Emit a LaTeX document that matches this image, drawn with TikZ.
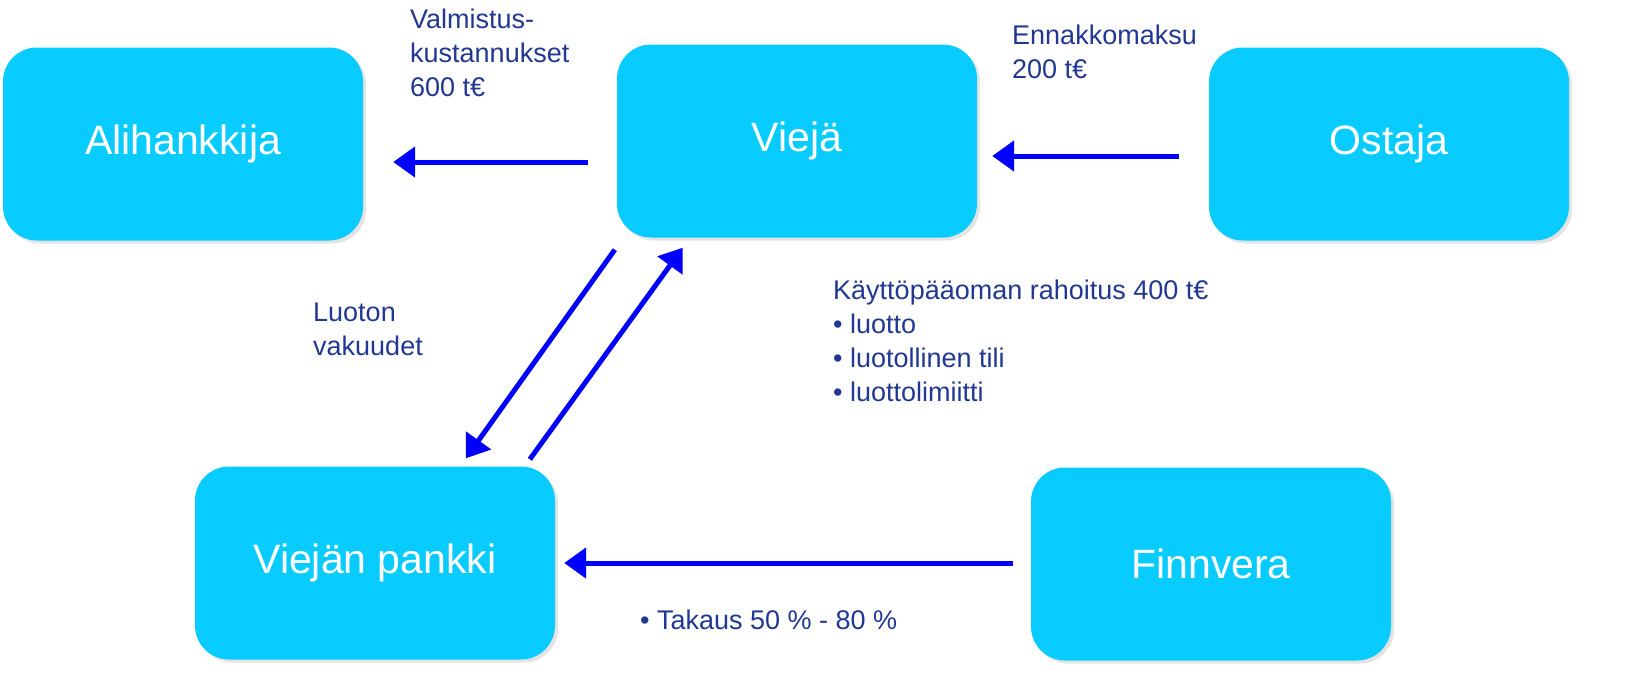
\documentclass[tikz,border=0pt]{standalone}
\usepackage{fontspec}
\setmainfont{Liberation Sans}
\usetikzlibrary{arrows.meta,calc,shadows}

\definecolor{boxcyan}{RGB}{8,204,255}
\definecolor{labelblue}{RGB}{33,55,145}
\definecolor{flowblue}{RGB}{0,0,255}

\begin{document}
\begin{tikzpicture}
  [x=1pt,y=-1pt,
   party/.style={rounded corners=34pt,fill=boxcyan,minimum width=360pt,minimum height=193pt,
     text=white,font=\fontsize{41}{49}\selectfont,inner sep=0pt,
     drop shadow={opacity=0.22,shadow xshift=3pt,shadow yshift=-3pt}},
   note/.style={text=labelblue,font=\fontsize{27}{34}\selectfont,align=left,anchor=north west,inner sep=0pt},
   flow/.style={draw=flowblue,line width=5pt,-{Triangle[length=22pt,width=30pt]}}]
  \useasboundingbox (0,0) rectangle (1641,689);

  \node[party] (ali)      at (183,144)  {Alihankkija};
  \node[party] (vieja)    at (797,141)  {Viejä};
  \node[party] (ostaja)   at (1389,144) {Ostaja};
  \node[party] (pankki)   at (375,563)  {Viejän pankki};
  \node[party] (finnvera) at (1211,564) {Finnvera};

  \node[note] (valmistus) at (410,9)   {Valmistus-\\kustannukset\\600 t€};
  \node[note] (ennakko)   at (1012,25) {Ennakkomaksu\\200 t€};
  \node[note] (vakuudet)  at (313,303) {Luoton\\vakuudet};
  \node[note] (rahoitus)  at (833,280) {Käyttöpääoman rahoitus 400 t€\\• luotto\\• luotollinen tili\\• luottolimiitti};
  \node[note] (takaus)    at (640,610) {• Takaus 50 \% - 80 \%};

  \draw[flow,shorten <=29pt,shorten >=30pt] ([yshift=-21pt]vieja.west) -- ([yshift=-21pt]vieja.west -| ali.east);
  \draw[flow,shorten <=30pt,shorten >=15pt] ([yshift=-12pt]ostaja.west) -- ([yshift=-12pt]ostaja.west -| vieja.east);
  \draw[flow,shorten <=18pt,shorten >=9pt] (finnvera.west |- pankki.east) -- (pankki.east);
  \draw[flow] ($(vieja.south west)+(-2,12)$) -- ($(pankki.north west)+(271,-8)$);
  \draw[flow] ($(pankki.north west)+(335,-7)$) -- ($(vieja.south west)+(66,10)$);

\end{tikzpicture}
\end{document}
